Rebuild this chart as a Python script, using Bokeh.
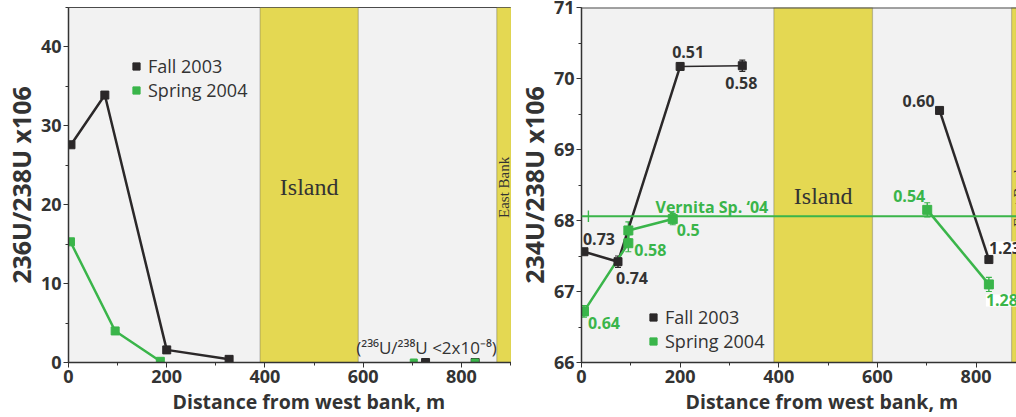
from bokeh.plotting import figure
from bokeh.layouts import row
from bokeh.models import (Range1d, BoxAnnotation, Span, Label, Legend, LegendItem,
                          Whisker, TeeHead, ColumnDataSource, SingleIntervalTicker,
                          Title)
from bokeh.core.properties import value
from bokeh.embed import file_html
from bokeh.resources import INLINE
import math

# ---------------- data ----------------
island = [390, 590]          # island extent along the transect, m
east_bank = 872              # start of the east bank, m
x_end_left = 902
x_end_right = 882

# 236U/238U (x1e6)
fall_d_236 = [5, 74, 200, 327]
fall_r_236 = [27.6, 33.9, 1.6, 0.4]
spring_d_236 = [4, 95, 187]
spring_r_236 = [15.3, 4.0, 0.15]
fall_d_nd = [727, 828]
fall_r_nd = [0, 0]
spring_d_nd = [703, 828]
spring_r_nd = [0, 0]

# 234U/238U (x1e6)
fall_d_west = [5, 74, 200, 326]
fall_r_west = [67.56, 67.42, 70.17, 70.18]
fall_e_west = [0.03, 0.08, 0.05, 0.08]
fall_lbl_west = ["0.73", "0.74", "0.51", "0.58"]
fall_d_east = [726, 826]
fall_r_east = [69.55, 67.45]
fall_e_east = [0.03, 0.04]
fall_lbl_east = ["0.60", "1.23"]

spring_d_west = [5, 95, 95, 185]
spring_r_west = [66.72, 67.68, 67.86, 68.02]
spring_e_west = [0.08, 0.12, 0.12, 0.08]
spring_lbl_west = ["0.64", "0.58", "", "0.5"]
spring_d_east = [701, 826]
spring_r_east = [68.15, 67.10]
spring_e_east = [0.1, 0.1]
spring_lbl_east = ["0.54", "1.28"]

vernita_d = [14]
vernita_r = [68.06]
vernita_e = [0.08]

# ---------------- style ----------------
BLACK = "#2b2829"
GREEN = "#3ab54a"
YELLOW = "#e4d852"
BG = "#f2f2f2"
INK = "#333333"
EDGE = "#4a4a4a"
SANS = "Open Sans"
SERIF = "Liberation Serif"


def base_figure(x_end, y_range, frame_w, border_left, border_right, xlab, ylab,
                ylab_standoff):
    p = figure(output_backend="svg", toolbar_location=None,
               x_range=Range1d(0, x_end), y_range=y_range,
               frame_width=frame_w, frame_height=355,
               min_border_left=border_left, min_border_right=border_right,
               min_border_top=7, min_border_bottom=55,
               background_fill_color=BG, border_fill_color="white")
    p.grid.visible = False
    p.outline_line_color = EDGE
    p.outline_line_width = 1
    p.yaxis.axis_label = ylab
    for ax in (p.xaxis[0], p.yaxis[0]):
        ax.axis_line_color = INK
        ax.axis_line_width = 1.5
        ax.major_tick_line_color = INK
        ax.minor_tick_line_color = INK
        ax.major_tick_in = 0
        ax.major_tick_out = 5
        ax.minor_tick_in = 0
        ax.minor_tick_out = 3
        ax.major_label_text_font = SANS
        ax.major_label_text_font_style = "bold"
        ax.major_label_text_font_size = "18px"
        ax.major_label_text_color = INK
        ax.axis_label_text_font = SANS
        ax.axis_label_text_font_style = "bold"
        ax.axis_label_text_color = INK
    p.xaxis.ticker = SingleIntervalTicker(interval=200, num_minor_ticks=2)
    p.xaxis.major_label_standoff = 2
    p.yaxis.major_label_standoff = 2
    p.yaxis.axis_label_text_font_size = "25px"
    p.yaxis.axis_label_standoff = ylab_standoff

    # horizontal title, set a little right of the frame centre
    p.add_layout(Title(text=xlab, align="left", offset=104, standoff=0,
                       text_font=SANS, text_font_style="bold",
                       text_font_size="19.5px", text_color=INK), "below")

    # river zones
    p.add_layout(BoxAnnotation(left=island[0], right=island[1], fill_color=YELLOW,
                               fill_alpha=1, line_color=EDGE, line_width=1.2,
                               level="underlay"))
    p.add_layout(BoxAnnotation(left=east_bank, fill_color=YELLOW, fill_alpha=1,
                               line_color=EDGE, line_width=1.2, level="underlay"))
    return p


def zone_labels(p, y):
    p.text(x=[sum(island) / 2], y=[y], text=["Island"], text_font=value(SERIF),
           text_font_size="24px", text_color=INK, text_align="center",
           text_baseline="middle")
    p.text(x=[(east_bank + x_end_left) / 2], y=[y], text=["East Bank"],
           text_font=value(SERIF), text_font_size="15px", text_color=INK,
           text_align="center", text_baseline="middle", angle=math.pi / 2)


def add_legend(p, fall_r, spring_r, x, y):
    leg = Legend(items=[LegendItem(label="Fall 2003", renderers=[fall_r]),
                        LegendItem(label="Spring 2004", renderers=[spring_r])],
                 location=(x, y), orientation="vertical",
                 background_fill_alpha=0, border_line_color=None,
                 glyph_width=20, glyph_height=18, label_height=18,
                 label_standoff=2, spacing=0, padding=0, margin=0,
                 label_text_font=SANS, label_text_font_size="18px",
                 label_text_color=INK)
    p.add_layout(leg)


def point_labels(p, xs, ys, texts, color, offsets, bg=None):
    for xv, yv, t, (dx, dy, align) in zip(xs, ys, texts, offsets):
        if not t:
            continue
        lab = Label(x=xv, y=yv, text=t, x_offset=dx, y_offset=dy,
                    text_align=align, text_baseline="middle",
                    text_font=SANS, text_font_style="bold",
                    text_font_size="16px", text_color=color)
        if bg:
            lab.background_fill_color = bg
        p.add_layout(lab)


def error_bars(p, xs, ys, es, color, heads=True):
    src = ColumnDataSource(dict(x=xs, lo=[a - b for a, b in zip(ys, es)],
                                hi=[a + b for a, b in zip(ys, es)]))
    head = (lambda: TeeHead(size=6, line_color=color, line_width=1.2)) if heads else (lambda: None)
    p.add_layout(Whisker(source=src, base="x", lower="lo", upper="hi",
                         dimension="height", line_color=color, line_width=1.4,
                         upper_head=head(), lower_head=head()))


# ---------------- left panel: 236U/238U ----------------
left = base_figure(x_end_left, Range1d(0, 45), 443, 68, 0,
                   "Distance from west bank, m", "236U/238U x106", 0)
left.yaxis.ticker = SingleIntervalTicker(interval=10, num_minor_ticks=2)
zone_labels(left, 22.2)

left.line(fall_d_236, fall_r_236, line_color=BLACK, line_width=2.5)
left.line(spring_d_236, spring_r_236, line_color=GREEN, line_width=2.5)
f236 = left.scatter(fall_d_236, fall_r_236, marker="square", size=8,
                    fill_color=BLACK, line_color=BLACK)
s236 = left.scatter(spring_d_236, spring_r_236, marker="square", size=8,
                    fill_color=GREEN, line_color=GREEN)
left.scatter(fall_d_nd, fall_r_nd, marker="square", size=8,
             fill_color=BLACK, line_color=BLACK)
left.scatter(spring_d_nd, spring_r_nd, marker="square", size=7,
             fill_color=GREEN, line_color=GREEN)
left.text(x=[729], y=[1.9], text=["(\u00b2\u00b3\u2076U/\u00b2\u00b3\u2078U <2x10\u207b\u2078)"],
          text_font=value(SANS), text_font_size="17px", text_color=INK,
          text_align="center", text_baseline="middle")
add_legend(left, f236, s236, 58, 260)

# ---------------- right panel: 234U/238U ----------------
right = base_figure(x_end_right, Range1d(66, 71), 435, 70, 0,
                    "Distance from west bank, m", "234U/238U x106", 0)
right.outline_line_color = None
right.add_layout(Span(location=71, dimension="width", line_color=EDGE, line_width=2))
right.yaxis.ticker = SingleIntervalTicker(interval=1, num_minor_ticks=2)
zone_labels(right, 68.34)

# Vernita reference level
right.add_layout(Span(location=vernita_r[0], dimension="width",
                      line_color=GREEN, line_width=2))
error_bars(right, vernita_d, vernita_r, vernita_e, GREEN, heads=False)
right.add_layout(Label(x=150, y=vernita_r[0], text="Vernita Sp. \u201804",
                       y_offset=9, text_baseline="middle", text_align="left",
                       text_font=SANS, text_font_style="bold",
                       text_font_size="16px", text_color=GREEN))

right.line(fall_d_west[:3], fall_r_west[:3], line_color=BLACK, line_width=2.5)
right.line(fall_d_west[2:], fall_r_west[2:], line_color=BLACK, line_width=1.5)
right.line(fall_d_east, fall_r_east, line_color=BLACK, line_width=2.5)
right.line(spring_d_west, spring_r_west, line_color=GREEN, line_width=2.5)
right.line(spring_d_east, spring_r_east, line_color=GREEN, line_width=2.5)

error_bars(right, fall_d_west + fall_d_east, fall_r_west + fall_r_east,
           fall_e_west + fall_e_east, BLACK)
error_bars(right, spring_d_west + spring_d_east, spring_r_west + spring_r_east,
           spring_e_west + spring_e_east, GREEN)

f234 = right.scatter(fall_d_west + fall_d_east, fall_r_west + fall_r_east,
                     marker="square", size=8, fill_color=BLACK, line_color=BLACK)
s234 = right.scatter(spring_d_west + spring_d_east, spring_r_west + spring_r_east,
                     marker="square", size=9, fill_color=GREEN, line_color=GREEN)

point_labels(right, fall_d_west, fall_r_west, fall_lbl_west, INK,
             [(-1, 13, "left"), (-2, -16, "left"), (-8, 14, "left"), (-17, -17, "left")])
point_labels(right, fall_d_east[:1], fall_r_east[:1], fall_lbl_east[:1], INK,
             [(-5, 9, "right")])
point_labels(right, fall_d_east[1:], fall_r_east[1:], fall_lbl_east[1:], INK,
             [(0, 12, "left")], bg="white")
point_labels(right, spring_d_west, spring_r_west, spring_lbl_west, GREEN,
             [(4, -12, "left"), (6, -7, "left"), (0, 0, "left"), (4, -11, "left")])
point_labels(right, spring_d_east[:1], spring_r_east[:1], spring_lbl_east[:1], GREEN,
             [(-2, 14, "right")])
point_labels(right, spring_d_east[1:], spring_r_east[1:], spring_lbl_east[1:], GREEN,
             [(-3, -16, "left")], bg="white")
add_legend(right, f234, s234, 62, 9)

layout = row(left, right, spacing=0)
open("out.html", "w").write(file_html(layout, INLINE))
